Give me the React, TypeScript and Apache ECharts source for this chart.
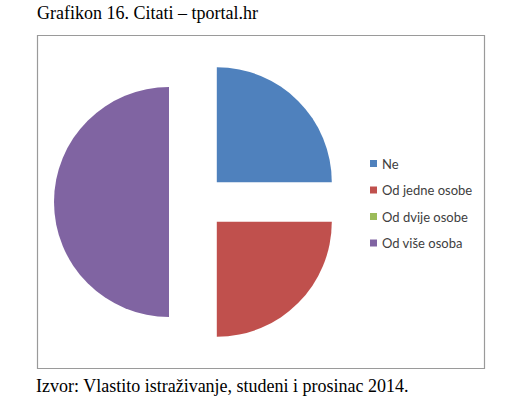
import React, { useEffect, useRef } from "react";
import * as echarts from "echarts";

const categories = ["Ne", "Od jedne osobe", "Od dvije osobe", "Od više osoba"];
const values = [25, 25, 0, 50];
const colors = ["#4F81BD", "#C0504D", "#9BBB59", "#8064A2"];
const titleText = "Grafikon 16. Citati – tportal.hr";
const sourceText = "Izvor: Vlastito istraživanje, studeni i prosinac 2014.";

export default function App() {
  const ref = useRef<HTMLDivElement>(null);
  useEffect(() => {
    if (!ref.current) return;
    const chart = echarts.init(ref.current, undefined, { renderer: "svg" });
    chart.setOption({
      animation: false,
      backgroundColor: "#ffffff",
      color: colors,
      graphic: [
        {
          type: "text",
          left: 37,
          top: 4,
          style: {
            text: titleText,
            font: '18px "Liberation Serif", "Times New Roman", serif',
            fill: "#000000",
          },
        },
        {
          type: "rect",
          shape: { x: 37.5, y: 35.5, width: 447, height: 333 },
          style: { fill: "none", stroke: "#9a9a9a", lineWidth: 1.2 },
          z: -1,
        },
        {
          type: "text",
          left: 36,
          top: 377,
          style: {
            text: sourceText,
            font: '18px "Liberation Serif", "Times New Roman", serif',
            fill: "#000000",
          },
        },
      ],
      legend: {
        orient: "vertical",
        left: 365,
        top: 152,
        itemWidth: 7,
        itemHeight: 7,
        itemGap: 13.5,
        icon: "rect",
        selectedMode: false,
        textStyle: {
          fontFamily: "Lato, Calibri, sans-serif",
          fontSize: 13,
          color: "#404040",
        },
        data: categories,
      },
      series: [
        {
          type: "pie",
          center: [197, 202],
          radius: 115,
          startAngle: 90,
          clockwise: true,
          selectedMode: "multiple",
          selectedOffset: 28,
          label: { show: false },
          labelLine: { show: false },
          emphasis: { disabled: true },
          silent: true,
          itemStyle: { borderWidth: 0 },
          data: categories.map((c, i) => ({
            name: c,
            value: values[i],
            selected: true,
          })),
        },
      ],
    });
    return () => chart.dispose();
  }, []);
  return (
    <div
      ref={ref}
      style={{ position: "absolute", left: 0, top: 0, width: 523, height: 418 }}
    />
  );
}
